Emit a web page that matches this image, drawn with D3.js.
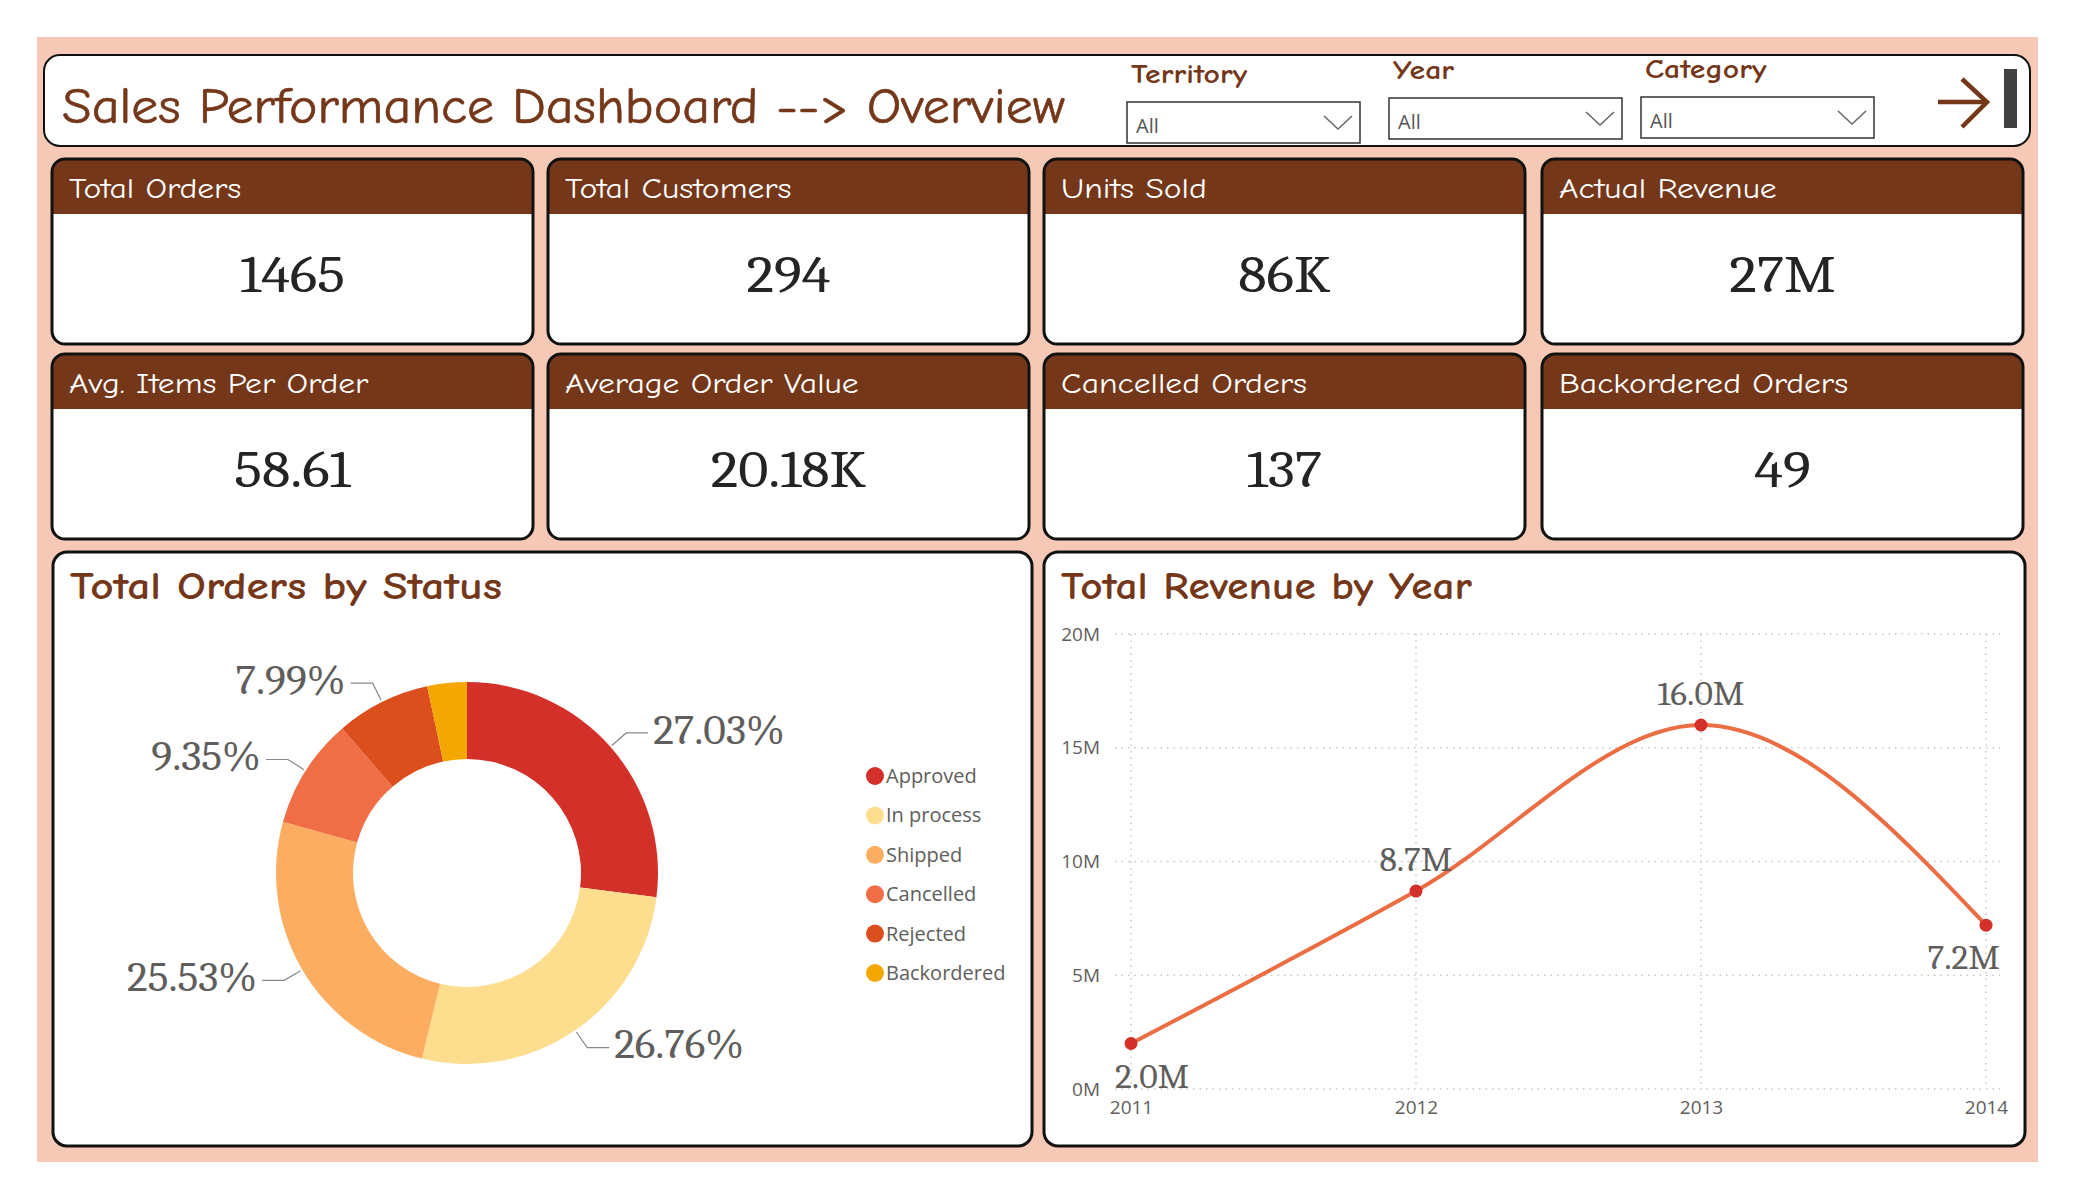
<!DOCTYPE html>
<html>
<head>
<meta charset="utf-8">
<script src="https://cdn.jsdelivr.net/npm/d3@7"></script>
<style>
  body { margin: 0; background: #fff; }
  svg { display: block; }
</style>
</head>
<body>
<svg id="dash" width="2075" height="1200"></svg>
<script>
// ---- data ----
const kpiTitles = ["Total Orders", "Total Customers", "Units Sold", "Actual Revenue",
                   "Avg. Items Per Order", "Average Order Value", "Cancelled Orders", "Backordered Orders"];
const kpiValues = ["1465", "294", "86K", "27M", "58.61", "20.18K", "137", "49"];

const filterNames = ["Territory", "Year", "Category"];
const filterValues = ["All", "All", "All"];

const statusNames = ["Approved", "In process", "Shipped", "Cancelled", "Rejected", "Backordered"];
const statusOrders = [396, 392, 374, 137, 117, 49];
const statusColors = ["#D4302A", "#FDDE8E", "#FBAE62", "#F06E45", "#DB4E1E", "#F4A700"];

const years = ["2011", "2012", "2013", "2014"];
const revenueM = [2.0, 8.7, 16.0, 7.2];
const revTicks = [0, 5, 10, 15, 20];

// ---- styling ----
const brown = "#743719";
const peach = "#F5C9B6";
const grey = "#605E5C";
const comic = "'Comic Sans MS','Comic Neue','Open Sans',sans-serif";
const serif = "Cambria,'Liberation Serif',serif";
const segoe = "'Segoe UI','Open Sans',sans-serif";

// widen text drawn in fallback fonts to the width of the original fonts
function stretch(sel, factor) {
    sel.each(function () {
        const w = this.getComputedTextLength();
        d3.select(this)
            .attr("textLength", w * factor)
            .attr("lengthAdjust", "spacingAndGlyphs");
    });
}

const svg = d3.select("#dash");

svg.append("rect")
    .attr("x", 37).attr("y", 37)
    .attr("width", 2001).attr("height", 1125)
    .attr("fill", peach);

// ---- header ----
svg.append("rect")
    .attr("x", 44).attr("y", 55)
    .attr("width", 1986).attr("height", 91)
    .attr("rx", 16)
    .attr("fill", "#fff")
    .attr("stroke", "#111")
    .attr("stroke-width", 2);

svg.append("text")
    .attr("x", 62).attr("y", 123)
    .attr("font-family", comic)
    .attr("font-size", 50)
    .attr("fill", brown)
    .attr("stroke", brown)
    .attr("stroke-width", 0.6)
    .attr("textLength", 1003)
    .attr("lengthAdjust", "spacingAndGlyphs")
    .text("Sales Performance Dashboard --> Overview");

const filterBoxes = [[1127, 102], [1389, 98], [1641, 97]];
filterNames.forEach((name, i) => {
    const [bx, by] = filterBoxes[i];
    const g = svg.append("g").attr("transform", `translate(${bx},${by})`);
    g.append("text")
        .attr("x", 4).attr("y", -19)
        .attr("font-family", comic)
        .attr("font-weight", "bold")
        .attr("font-size", 26)
        .attr("fill", brown)
        .text(name)
        .call(stretch, 1.22);
    g.append("rect")
        .attr("width", 233).attr("height", 41)
        .attr("fill", "#fff")
        .attr("stroke", "#333")
        .attr("stroke-width", 1.5);
    g.append("text")
        .attr("x", 9).attr("y", 31)
        .attr("font-family", segoe)
        .attr("font-size", 20)
        .attr("fill", "#555")
        .text(filterValues[i]);
    g.append("polyline")
        .attr("points", "197,14 211,27 225,14")
        .attr("fill", "none")
        .attr("stroke", "#666")
        .attr("stroke-width", 1.5);
});

// arrow + bar at the right of the header
svg.append("line")
    .attr("x1", 1938).attr("y1", 102).attr("x2", 1986).attr("y2", 102)
    .attr("stroke", brown).attr("stroke-width", 4.5);
svg.append("polyline")
    .attr("points", "1962,79 1987,102 1962,127")
    .attr("fill", "none")
    .attr("stroke", brown).attr("stroke-width", 4.5);
svg.append("rect")
    .attr("x", 2004).attr("y", 69).attr("width", 13).attr("height", 59)
    .attr("fill", "#404040");

// ---- KPI cards ----
const cardX = [52, 548, 1044, 1542];
const cardY = [159, 354];
const cardW = 481, cardH = 185, bandH = 55;

kpiTitles.forEach((title, i) => {
    const g = svg.append("g")
        .attr("transform", `translate(${cardX[i % 4]},${cardY[Math.floor(i / 4)]})`);
    g.append("rect")
        .attr("width", cardW).attr("height", cardH).attr("rx", 13)
        .attr("fill", brown);
    g.append("rect")
        .attr("y", bandH).attr("width", cardW).attr("height", cardH - bandH).attr("rx", 13)
        .attr("fill", "#fff");
    g.append("rect")
        .attr("y", bandH).attr("width", cardW).attr("height", 20)
        .attr("fill", "#fff");
    g.append("rect")
        .attr("width", cardW).attr("height", cardH).attr("rx", 13)
        .attr("fill", "none")
        .attr("stroke", "#111").attr("stroke-width", 3);
    g.append("text")
        .attr("x", 17).attr("y", 39)
        .attr("font-family", comic)
        .attr("font-size", 28)
        .attr("fill", "#fff")
        .text(title)
        .call(stretch, 1.2);
    g.append("text")
        .attr("x", cardW / 2)
        .attr("y", bandH + (cardH - bandH) / 2 + 13)
        .attr("text-anchor", "middle")
        .attr("font-family", serif)
        .attr("font-size", 52)
        .attr("fill", "#252423")
        .text(kpiValues[i])
        .call(stretch, 1.12);
});

// ---- bottom panels ----
const panels = [
    { x: 53, y: 552, w: 979, h: 594, title: "Total Orders by Status", tw: 432 },
    { x: 1044, y: 552, w: 981, h: 594, title: "Total Revenue by Year", tw: 411 }
];
panels.forEach(p => {
    svg.append("rect")
        .attr("x", p.x).attr("y", p.y)
        .attr("width", p.w).attr("height", p.h)
        .attr("rx", 14)
        .attr("fill", "#fff")
        .attr("stroke", "#111").attr("stroke-width", 3);
    svg.append("text")
        .attr("x", p.x + 17).attr("y", 599)
        .attr("font-family", comic)
        .attr("font-weight", "bold")
        .attr("font-size", 38)
        .attr("fill", brown)
        .attr("textLength", p.tw)
        .attr("lengthAdjust", "spacingAndGlyphs")
        .text(p.title);
});

// ---- donut: Total Orders by Status ----
const total = d3.sum(statusOrders);
const rOuter = 191, rInner = 114;
const pie = d3.pie().sort(null).value(d => d);
const arcs = pie(statusOrders);
const arc = d3.arc().innerRadius(rInner).outerRadius(rOuter);
const donut = svg.append("g").attr("transform", "translate(467,873)");

donut.selectAll("path.slice")
    .data(arcs)
    .join("path")
    .attr("class", "slice")
    .attr("d", arc)
    .attr("fill", (d, i) => statusColors[i]);

const pct = d3.format(".2%");
const labelled = arcs.filter(d => d.value / total > 0.05);
const pt = (a, r) => [Math.sin(a) * r, -Math.cos(a) * r];

labelled.forEach(d => {
    const a = (d.startAngle + d.endAngle) / 2;
    const side = Math.sin(a) >= 0 ? 1 : -1;
    const p1 = pt(a, rOuter + 2);
    const p2 = pt(a, rOuter + 21);
    const p3 = [p2[0] + side * 22, p2[1]];
    donut.append("polyline")
        .attr("points", [p1, p2, p3].map(p => p.join(",")).join(" "))
        .attr("fill", "none")
        .attr("stroke", "#8a8886")
        .attr("stroke-width", 1.2);
    donut.append("text")
        .attr("x", p3[0] + side * 5)
        .attr("y", p3[1] - 4)
        .attr("dy", "0.35em")
        .attr("text-anchor", side > 0 ? "start" : "end")
        .attr("font-family", serif)
        .attr("font-size", 42)
        .attr("fill", grey)
        .text(pct(d.value / total))
        .call(stretch, 1.04);
});

const legend = svg.append("g").attr("transform", "translate(875,776)");
const legendY = d3.scalePoint().domain(statusNames).range([0, 197]);
statusNames.forEach((name, i) => {
    legend.append("circle")
        .attr("cx", 0).attr("cy", legendY(name)).attr("r", 9)
        .attr("fill", statusColors[i]);
    legend.append("text")
        .attr("x", 11).attr("y", legendY(name))
        .attr("dy", "0.35em")
        .attr("font-family", segoe)
        .attr("font-size", 20)
        .attr("fill", grey)
        .text(name);
});

// ---- line: Total Revenue by Year ----
const x = d3.scalePoint().domain(years).range([1131, 1986]);
const y = d3.scaleLinear().domain([0, 20]).range([1089, 634]);
const gridLeft = 1115, gridRight = 2000;

const grid = svg.append("g")
    .attr("stroke", "#C8C6C4")
    .attr("stroke-width", 1.5)
    .attr("stroke-dasharray", "1.5,5");
grid.selectAll("line.h")
    .data(revTicks)
    .join("line")
    .attr("class", "h")
    .attr("x1", gridLeft).attr("x2", gridRight)
    .attr("y1", d => y(d)).attr("y2", d => y(d));
grid.selectAll("line.v")
    .data(years)
    .join("line")
    .attr("class", "v")
    .attr("x1", d => x(d)).attr("x2", d => x(d))
    .attr("y1", y(20)).attr("y2", y(0));

svg.append("g")
    .attr("transform", "translate(1100,0)")
    .call(d3.axisLeft(y).tickValues(revTicks).tickFormat(d => d + "M").tickSize(0).tickPadding(0))
    .call(g => g.select(".domain").remove())
    .call(g => g.selectAll("text")
        .attr("font-family", segoe)
        .attr("font-size", 19)
        .attr("fill", grey));

svg.append("g")
    .attr("transform", "translate(0,1100)")
    .call(d3.axisBottom(x).tickSize(0).tickPadding(0))
    .call(g => g.select(".domain").remove())
    .call(g => g.selectAll("text")
        .attr("font-family", segoe)
        .attr("font-size", 19)
        .attr("fill", grey));

const rev = years.map((yr, i) => ({ year: yr, value: revenueM[i] }));

svg.append("path")
    .datum(rev)
    .attr("fill", "none")
    .attr("stroke", "#EB6D43")
    .attr("stroke-width", 4)
    .attr("d", d3.line().x(d => x(d.year)).y(d => y(d.value)).curve(d3.curveMonotoneX));

svg.selectAll("circle.pt")
    .data(rev)
    .join("circle")
    .attr("class", "pt")
    .attr("cx", d => x(d.year))
    .attr("cy", d => y(d.value))
    .attr("r", 6.5)
    .attr("fill", "#D4302A");

// labels: first and last below the point, kept inside the plot
const labels = svg.selectAll("text.dl")
    .data(rev)
    .join("text")
    .attr("class", "dl")
    .attr("font-family", serif)
    .attr("font-size", 33)
    .attr("fill", grey)
    .text(d => d.value.toFixed(1) + "M")
    .call(stretch, 1.08);

labels.each(function (d, i) {
    const w = +this.getAttribute("textLength");
    let left = x(d.year) - w / 2;
    left = Math.max(gridLeft, Math.min(gridRight - w, left));
    const below = i === 0 || i === rev.length - 1;
    d3.select(this)
        .attr("x", left)
        .attr("y", below ? y(d.value) + 44 : y(d.value) - 20);
});
</script>
</body>
</html>
